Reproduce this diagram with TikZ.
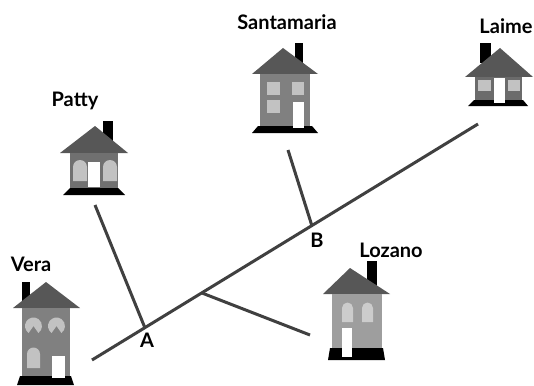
\documentclass[tikz,border=0pt]{standalone}
\usepackage{fontspec}
\setsansfont{Lato}
\begin{document}
\begin{tikzpicture}[x=0.5pt, y=-0.5pt, font=\sffamily\bfseries]
    \tikzset{
      road/.style={draw=black!75, line width=1.5pt},
      townlbl/.style={inner sep=0pt, font=\sffamily\bfseries\fontsize{10}{12}\selectfont},
      roof/.style={fill=black!66},
      chimney/.style={fill=black},
      base/.style={fill=black},
      wall/.style={fill=black!50},
      win/.style={fill=black!24},
      door/.style={fill=white},
    }
    \useasboundingbox (0,0) rectangle (534,385);

    % Vera
    \fill[chimney] (22,282) rectangle (30,308);
    \fill[roof] (13,308) -- (46,282) -- (80,308) -- cycle;
    \fill[wall] (22,308) rectangle (70,378);
    \fill[base] (20,376) -- (71,376) -- (74,385) -- (17,385) -- cycle;
    \fill[win] (33.5,326) -- ++(125:8.5) arc[start angle=125, end angle=415, radius=8.5] -- cycle;
    \fill[win] (56.5,326) -- ++(125:8.5) arc[start angle=125, end angle=415, radius=8.5] -- cycle;
    \fill[win] (27,368) -- (27,354) arc[start angle=180, end angle=360, radius=6.5] -- (40,368) -- cycle;
    \fill[door] (52,356) rectangle (65,378);

    % Patty
    \fill[chimney] (103,121) rectangle (113,142);
    \fill[roof] (60,153) -- (95,126) -- (128,153) -- cycle;
    \fill[wall, fill=black!56] (70,153) rectangle (118,189);
    \fill[base] (70,188) -- (118,188) -- (125,195) -- (63,195) -- cycle;
    \fill[win] (73,181) -- (73,167) arc[start angle=180, end angle=360, radius=7] -- (87,181) -- cycle;
    \fill[win] (103,181) -- (103,167) arc[start angle=180, end angle=360, radius=7] -- (117,181) -- cycle;
    \fill[door] (88,162) rectangle (100,187);

    % Santamaria
    \fill[chimney] (295,43) rectangle (303,63);
    \fill[roof] (252,74) -- (283,48) -- (318,74) -- cycle;
    \fill[wall] (260,74) rectangle (310,127);
    \fill[base] (258,126) -- (312,126) -- (318,133) -- (252,133) -- cycle;
    \fill[win] (267,82) rectangle (280,95);
    \fill[win] (292,82) rectangle (304,95);
    \fill[win] (267,100) rectangle (280,113);
    \fill[door] (293,102) rectangle (304,128);

    % Laime
    \fill[chimney] (480,43) rectangle (491,63);
    \fill[roof] (465,77) -- (500,48) -- (533,77) -- cycle;
    \fill[wall, fill=black!58] (475,77) rectangle (522,102);
    \fill[base] (474,100) -- (523,100) -- (528,106) -- (468,106) -- cycle;
    \fill[win] (478,80) rectangle (491,91);
    \fill[win] (508,80) rectangle (520,91);
    \fill[door] (494,78) rectangle (505,103);

    % Lozano
    \fill[chimney] (367,261) rectangle (377,293);
    \fill[roof] (323,294) -- (350,268) -- (390,294) -- cycle;
    \fill[wall, fill=black!38] (332,294) rectangle (382,350);
    \fill[base] (330,348) -- (383,348) -- (385,360) -- (328,360) -- cycle;
    \fill[win, fill=black!20] (342,322) -- (342,308) arc[start angle=180, end angle=360, radius=5.5] -- (353,322) -- cycle;
    \fill[win, fill=black!20] (362,322) -- (362,308) arc[start angle=180, end angle=360, radius=5.5] -- (373,322) -- cycle;
    \fill[door] (342,328) rectangle (352,357);

    \coordinate (vera end) at (92,360);
    \coordinate (laime end) at (478,124);
    \coordinate (patty end) at (95,205);
    \coordinate (santa end) at (288,150);
    \coordinate (lozano end) at (310,335);
    \coordinate (A) at (145,328);
    \coordinate (B) at (312,226);
    \coordinate (fork) at (202,293);

    \draw[road] (vera end) -- (laime end);
    \draw[road] (patty end) -- (A);
    \draw[road] (santa end) -- (B);
    \draw[road] (fork) -- (lozano end);

    \node[townlbl] (lblA) at (147,340) {A};
    \node[townlbl] (lblB) at (317,240) {B};
    \node[townlbl] (vera) at (31,264) {Vera};
    \node[townlbl] (patty) at (75,101) {Patty};
    \node[townlbl] (santamaria) at (287,22) {Santamaria};
    \node[townlbl] (laime) at (506,26) {Laime};
    \node[townlbl] (lozano) at (391,250) {Lozano};
  \end{tikzpicture}
\end{document}
